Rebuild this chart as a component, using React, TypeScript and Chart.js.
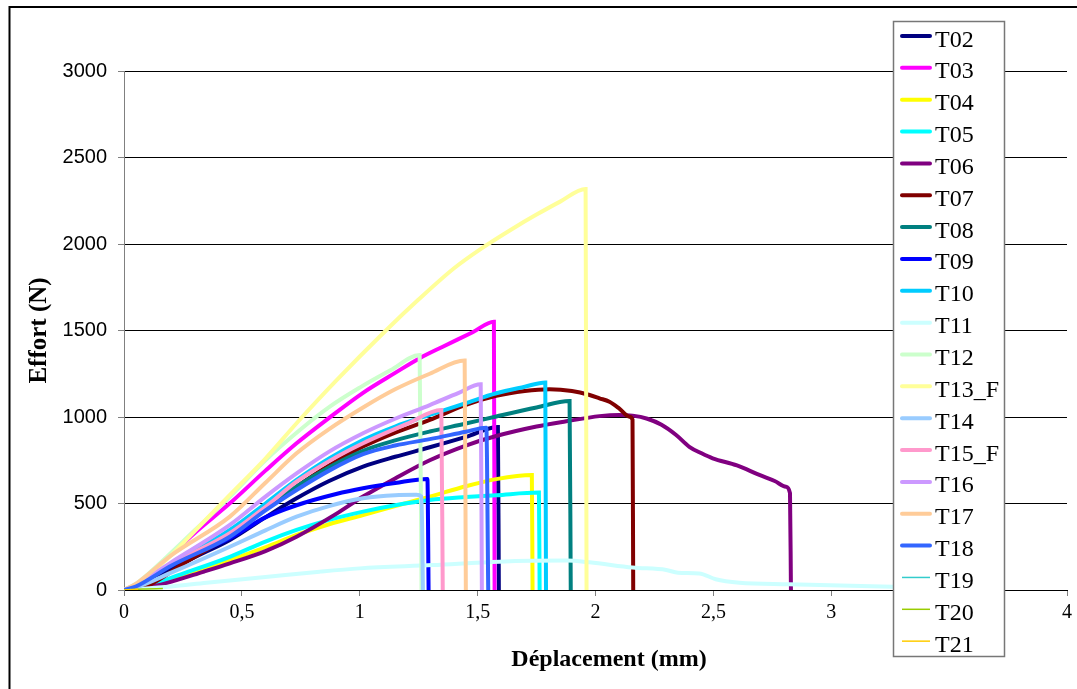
import React, { useEffect, useRef } from 'react';
import { Chart, registerables } from 'chart.js';

Chart.register(...registerables);

// ---- Data (x: Déplacement en mm, y: Effort en N) ----
const T02: number[][] = [[0,0],[0.05,15],[0.1,45],[0.2,120],[0.3,190],[0.449,289],[0.6,420],[0.732,530],[0.87,630],[1.014,713],[1.15,770],[1.297,825],[1.45,885],[1.586,942],[1.59,0]];
const T03: number[][] = [[0,0],[0.05,30],[0.1,85],[0.2,205],[0.3,330],[0.449,501],[0.6,690],[0.732,848],[0.87,995],[1.014,1140],[1.15,1255],[1.254,1340],[1.35,1405],[1.479,1490],[1.569,1551],[1.572,0]];
const T04: number[][] = [[0,0],[0.1,20],[0.25,80],[0.449,173],[0.605,250],[0.732,318],[0.87,380],[1.014,433],[1.15,485],[1.297,539],[1.45,600],[1.579,641],[1.73,665],[1.733,0]];
const T05: number[][] = [[0,0],[0.1,25],[0.25,95],[0.449,192],[0.6,280],[0.732,347],[0.87,405],[1.014,453],[1.15,490],[1.297,520],[1.45,537],[1.579,548],[1.76,563],[1.763,0]];
const T06: number[][] = [[0,0],[0.1,15],[0.18,40],[0.336,105],[0.449,154],[0.6,225],[0.732,308],[0.9,440],[1.014,540],[1.15,645],[1.297,750],[1.45,835],[1.579,890],[1.75,945],[1.876,975],[2.017,1005],[2.1,1012],[2.157,1008],[2.22,990],[2.28,955],[2.342,896],[2.398,828],[2.45,790],[2.497,761],[2.6,720],[2.695,665],[2.76,630],[2.808,597],[2.825,560],[2.829,0]];
const T07: number[][] = [[0,0],[0.1,25],[0.25,150],[0.449,318],[0.6,470],[0.732,598],[0.87,720],[1.014,829],[1.15,910],[1.297,983],[1.438,1065],[1.579,1122],[1.7,1150],[1.805,1160],[1.9,1150],[1.975,1127],[2.017,1108],[2.059,1088],[2.1,1050],[2.144,1002],[2.157,985],[2.16,0]];
const T08: number[][] = [[0,0],[0.05,20],[0.2,150],[0.449,328],[0.6,470],[0.732,598],[0.87,710],[1.014,805],[1.15,865],[1.297,916],[1.45,962],[1.579,1003],[1.75,1055],[1.89,1092],[1.895,0]];
const T09: number[][] = [[0,0],[0.05,20],[0.2,150],[0.449,300],[0.6,420],[0.732,490],[0.9,555],[1.014,588],[1.15,618],[1.287,642],[1.292,0]];
const T10: number[][] = [[0,0],[0.05,25],[0.2,150],[0.449,347],[0.6,500],[0.732,636],[0.87,760],[1.014,867],[1.15,945],[1.297,1012],[1.45,1080],[1.579,1137],[1.7,1175],[1.787,1200],[1.79,0]];
const T11: number[][] = [[0,0],[0.2,20],[0.35,42],[0.6,75],[0.83,106],[1.0,125],[1.31,144],[1.593,164],[1.876,170],[1.975,160],[2.157,130],[2.3,116],[2.35,100],[2.44,96],[2.51,62],[2.61,42],[2.82,33],[3.26,19],[3.6,12]];
const T12: number[][] = [[0,0],[0.05,35],[0.1,90],[0.2,215],[0.3,345],[0.449,539],[0.6,750],[0.746,925],[0.873,1060],[1.0,1170],[1.13,1270],[1.254,1358],[1.262,0]];
const T13_F: number[][] = [[0,0],[0.05,30],[0.1,80],[0.2,200],[0.3,340],[0.449,550],[0.6,760],[0.732,964],[0.9,1210],[1.113,1503],[1.247,1676],[1.4,1860],[1.517,1975],[1.65,2090],[1.75,2170],[1.85,2245],[1.958,2318],[1.962,0]];
const T14: number[][] = [[0,0],[0.05,15],[0.2,100],[0.449,250],[0.6,345],[0.732,424],[0.87,485],[1.014,530],[1.15,548],[1.24,550],[1.262,540],[1.268,0]];
const T15_F: number[][] = [[0,0],[0.05,20],[0.2,150],[0.449,328],[0.6,480],[0.732,626],[0.87,745],[1.014,848],[1.2,960],[1.346,1040],[1.352,0]];
const T16: number[][] = [[0,0],[0.05,30],[0.2,160],[0.449,376],[0.6,540],[0.732,674],[0.87,800],[1.014,906],[1.15,990],[1.297,1069],[1.42,1140],[1.513,1189],[1.518,0]];
const T17: number[][] = [[0,0],[0.05,35],[0.2,200],[0.449,424],[0.6,620],[0.732,790],[0.87,930],[1.014,1055],[1.15,1160],[1.297,1250],[1.445,1326],[1.45,0]];
const T18: number[][] = [[0,0],[0.05,20],[0.2,140],[0.449,308],[0.6,460],[0.732,578],[0.87,690],[1.014,785],[1.15,835],[1.297,872],[1.45,915],[1.537,938],[1.545,0]];
const T19: number[][] = [[0,0],[0.03,3]];
const T20: number[][] = [[0,0],[0.08,6],[0.165,8]];
const T21: number[][] = [[0,0],[0.06,4]];

const seriesNames = ['T02','T03','T04','T05','T06','T07','T08','T09','T10','T11','T12','T13_F','T14','T15_F','T16','T17','T18','T19','T20','T21'];
const seriesData = [T02,T03,T04,T05,T06,T07,T08,T09,T10,T11,T12,T13_F,T14,T15_F,T16,T17,T18,T19,T20,T21];
const seriesColors = ['#000080','#FF00FF','#FFFF00','#00FFFF','#800080','#800000','#008080','#0000FF','#00CCFF','#CCFFFF','#CCFFCC','#FFFF99','#99CCFF','#FF99CC','#CC99FF','#FFCC99','#3366FF','#33CCCC','#99CC00','#FFCC00'];
const seriesWidths = [4,4,4,4,4,4,4,4,4,4,4,4,4,4,4,4,4,1.5,1.5,1.5];

const xTickValues = [0, 0.5, 1, 1.5, 2, 2.5, 3, 3.5, 4];
const xTickLabels = ['0', '0,5', '1', '1,5', '2', '2,5', '3', '3,5', '4'];
const yTickValues = [0, 500, 1000, 1500, 2000, 2500, 3000];
const yTickLabels = ['0', '500', '1000', '1500', '2000', '2500', '3000'];

const xTitle = 'Déplacement (mm)';
const yTitle = 'Effort (N)';

const W = 1077;
const H = 689;
const SERIF = '"Liberation Serif", "Times New Roman", serif';
const SANS = '"Liberation Sans", Arial, sans-serif';

export default function App() {
  const ref = useRef<HTMLCanvasElement>(null);

  useEffect(() => {
    const canvas = ref.current;
    if (!canvas) return;

    const decor = {
      id: 'excelDecor',
      beforeDraw(chart: any) {
        const ctx = chart.ctx;
        ctx.save();
        ctx.fillStyle = '#ffffff';
        ctx.fillRect(0, 0, W, H);
        ctx.restore();
      },
      afterDraw(chart: any) {
        const ctx = chart.ctx;
        ctx.save();
        // x axis title
        ctx.fillStyle = '#000000';
        ctx.font = 'bold 24px ' + SERIF;
        ctx.textAlign = 'center';
        ctx.textBaseline = 'middle';
        ctx.fillText(xTitle, 609, 660);
        // outer frame
        ctx.strokeStyle = '#000000';
        ctx.lineWidth = 2;
        ctx.strokeRect(9.5, 7, 2000, 2000);
        // legend box
        const lx = 893, ly = 21, lw = 111, lh = 635;
        ctx.fillStyle = '#ffffff';
        ctx.fillRect(lx, ly, lw, lh);
        ctx.strokeStyle = '#777777';
        ctx.lineWidth = 1.5;
        ctx.strokeRect(lx + 0.5, ly + 0.5, lw, lh);
        ctx.font = '24px ' + SERIF;
        ctx.textBaseline = 'alphabetic';
        ctx.textAlign = 'left';
        seriesNames.forEach((name, i) => {
          const y = 36 + i * 31.85;
          ctx.strokeStyle = seriesColors[i];
          ctx.lineWidth = seriesWidths[i] > 2 ? 4 : 1.5;
          ctx.lineCap = seriesWidths[i] > 2 ? 'round' : 'butt';
          ctx.beginPath();
          ctx.moveTo(902, y);
          ctx.lineTo(930, y);
          ctx.stroke();
          ctx.fillStyle = '#000000';
          ctx.fillText(name, 935, y + 10.5);
        });
        ctx.restore();
      },
    };

    const chart = new Chart(canvas, {
      type: 'scatter',
      data: {
        datasets: seriesData.map((d, i) => ({
          label: seriesNames[i],
          data: d.map(([x, y]) => ({ x, y })),
          borderColor: seriesColors[i],
          backgroundColor: seriesColors[i],
          borderWidth: seriesWidths[i],
          showLine: true,
          pointRadius: 0,
          pointHoverRadius: 0,
          cubicInterpolationMode: 'monotone',
          fill: false,
          order: 20 - i,
        })),
      },
      options: {
        responsive: false,
        animation: false,
        devicePixelRatio: 1,
        events: [],
        layout: { padding: { left: 0, top: 71, right: 9, bottom: 0 } },
        plugins: { legend: { display: false }, tooltip: { enabled: false }, title: { display: false } },
        scales: {
          x: {
            type: 'linear',
            min: 0,
            max: 4,
            afterBuildTicks: (scale: any) => { scale.ticks = xTickValues.map((v) => ({ value: v })); },
            afterFit: (scale: any) => { scale.height = H - 590; },
            ticks: {
              autoSkip: false,
              maxRotation: 0,
              minRotation: 0,
              padding: 5,
              color: '#000',
              font: { family: SERIF, size: 20 },
              callback: (_v: any, i: number) => xTickLabels[i],
            },
            grid: { drawOnChartArea: false, drawTicks: true, tickLength: 6, tickColor: '#808080', color: '#808080' },
            border: { color: '#000000', width: 1 },
            title: { display: false, text: xTitle },
          },
          y: {
            type: 'linear',
            min: 0,
            max: 3000,
            afterBuildTicks: (scale: any) => { scale.ticks = yTickValues.map((v) => ({ value: v })); },
            afterFit: (scale: any) => { scale.width = 124; },
            ticks: {
              padding: 11,
              color: '#000',
              font: { family: SANS, size: 20 },
              callback: (_v: any, i: number) => yTickLabels[i],
            },
            grid: { color: '#000000', lineWidth: 1, drawTicks: true, tickLength: 6, tickColor: '#808080' },
            border: { color: '#808080', width: 1 },
            title: { display: true, text: yTitle, color: '#000', font: { family: SERIF, size: 25, weight: 'bold' }, padding: { top: 25, bottom: 0 } },
          },
        },
      } as any,
      plugins: [decor],
    });

    return () => chart.destroy();
  }, []);

  return (
    <div style={{ position: 'absolute', left: 0, top: 0, width: W, height: H, background: '#fff' }}>
      <canvas ref={ref} width={W} height={H} style={{ display: 'block', width: W, height: H }} />
    </div>
  );
}
